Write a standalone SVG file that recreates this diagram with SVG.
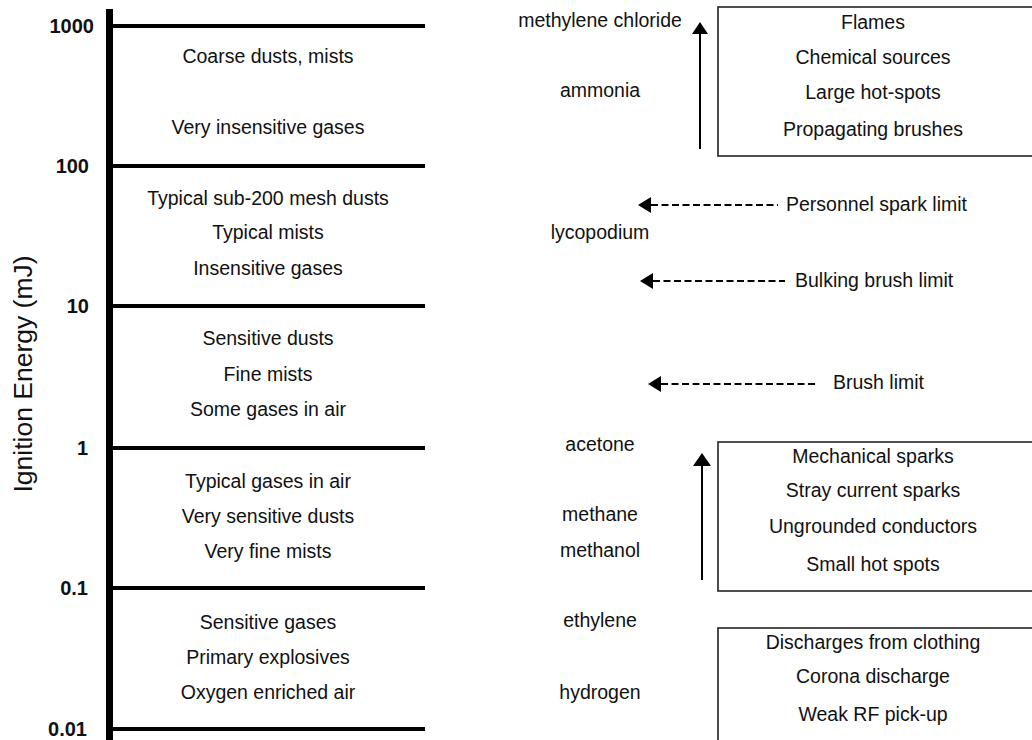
<svg xmlns="http://www.w3.org/2000/svg" width="1032" height="740" viewBox="0 0 1032 740">
<defs>
<style>
text{font-family:"Liberation Sans",Arial,sans-serif;fill:#111;}
.t{font-size:19.5px;text-anchor:middle;}
.l{font-size:19.5px;text-anchor:start;}
.n{font-size:20px;font-weight:bold;text-anchor:end;}
.axis{stroke:#000;stroke-width:7;fill:none;}
.grid{stroke:#000;stroke-width:4;fill:none;}
.box{stroke:#222;stroke-width:1.6;fill:none;}
.up{stroke:#000;stroke-width:2;fill:none;}
.dash{stroke:#000;stroke-width:2;fill:none;stroke-dasharray:7 3.5;}
.head{fill:#000;stroke:none;}
</style>
</defs>
<rect width="1032" height="740" fill="#fff"/>
<g id="axis">
<line class="axis" x1="109.5" y1="9" x2="109.5" y2="740"/>
<line class="grid" x1="109" y1="26" x2="425" y2="26"/>
<line class="grid" x1="109" y1="166" x2="425" y2="166"/>
<line class="grid" x1="109" y1="306" x2="425" y2="306"/>
<line class="grid" x1="109" y1="448" x2="425" y2="448"/>
<line class="grid" x1="109" y1="588" x2="425" y2="588"/>
<line class="grid" x1="109" y1="729" x2="425" y2="729"/>
<text class="n" x="94" y="33">1000</text>
<text class="n" x="89" y="173">100</text>
<text class="n" x="89" y="313">10</text>
<text class="n" x="88" y="455">1</text>
<text class="n" x="88" y="595">0.1</text>
<text class="n" x="87" y="736">0.01</text>
<text x="32" y="374" font-size="26.5" text-anchor="middle" transform="rotate(-90 32 374)">Ignition Energy (mJ)</text>
</g>
<g id="band-1000">
<text class="t" x="268" y="63">Coarse dusts, mists</text>
<text class="t" x="268" y="134">Very insensitive gases</text>
</g>
<g id="band-100">
<text class="t" x="268" y="205">Typical sub-200 mesh dusts</text>
<text class="t" x="268" y="239">Typical mists</text>
<text class="t" x="268" y="275">Insensitive gases</text>
</g>
<g id="band-10">
<text class="t" x="268" y="345">Sensitive dusts</text>
<text class="t" x="268" y="381">Fine mists</text>
<text class="t" x="268" y="416">Some gases in air</text>
</g>
<g id="band-1">
<text class="t" x="268" y="488">Typical gases in air</text>
<text class="t" x="268" y="523">Very sensitive dusts</text>
<text class="t" x="268" y="558">Very fine mists</text>
</g>
<g id="band-01">
<text class="t" x="268" y="629">Sensitive gases</text>
<text class="t" x="268" y="664">Primary explosives</text>
<text class="t" x="268" y="699">Oxygen enriched air</text>
</g>
<g id="chemicals">
<text class="t" x="600" y="27">methylene chloride</text>
<text class="t" x="600" y="97">ammonia</text>
<text class="t" x="600" y="239">lycopodium</text>
<text class="t" x="600" y="451">acetone</text>
<text class="t" x="600" y="521">methane</text>
<text class="t" x="600" y="557">methanol</text>
<text class="t" x="600" y="627">ethylene</text>
<text class="t" x="600" y="699">hydrogen</text>
</g>
<g id="box-high">
<rect class="box" x="718" y="7" width="330" height="149"/>
<text class="t" x="873" y="29">Flames</text>
<text class="t" x="873" y="64">Chemical sources</text>
<text class="t" x="873" y="99">Large hot-spots</text>
<text class="t" x="873" y="136">Propagating brushes</text>
</g>
<g id="box-mid">
<rect class="box" x="718" y="442" width="330" height="149"/>
<text class="t" x="873" y="463">Mechanical sparks</text>
<text class="t" x="873" y="497">Stray current sparks</text>
<text class="t" x="873" y="533">Ungrounded conductors</text>
<text class="t" x="873" y="571">Small hot spots</text>
</g>
<g id="box-low">
<rect class="box" x="718" y="628" width="330" height="130"/>
<text class="t" x="873" y="649">Discharges from clothing</text>
<text class="t" x="873" y="683">Corona discharge</text>
<text class="t" x="873" y="721">Weak RF pick-up</text>
</g>
<g id="limits">
<text class="l" x="786" y="211">Personnel spark limit</text>
<text class="l" x="795" y="287">Bulking brush limit</text>
<text class="l" x="833" y="389">Brush limit</text>
</g>
<g id="connectors">
<line class="up" x1="700" y1="149" x2="700" y2="32"/>
<polygon class="head" points="700,22 692,34 708,34"/>
<line class="up" x1="702" y1="580" x2="702" y2="464"/>
<polygon class="head" points="702,453 693,466 711,466"/>
<line class="dash" x1="651" y1="205" x2="778" y2="205"/>
<polygon class="head" points="638,205 651,197 651,213"/>
<line class="dash" x1="653" y1="281" x2="785" y2="281"/>
<polygon class="head" points="640,281 653,273 653,289"/>
<line class="dash" x1="661" y1="384" x2="817" y2="384"/>
<polygon class="head" points="648,384 661,376 661,392"/>
</g>
</svg>
